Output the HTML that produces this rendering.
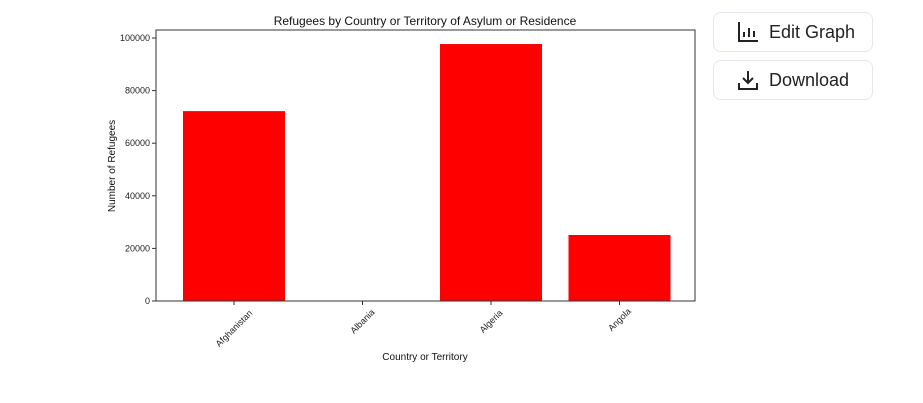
<!DOCTYPE html>
<html><head><meta charset="utf-8"><style>
body{margin:0;width:923px;height:403px;background:#fff;font-family:"Liberation Sans",sans-serif;overflow:hidden;position:relative}
.btn{position:absolute;left:713px;width:160px;height:40px;border:1px solid #e3e6ec;border-radius:8px;background:#fff;box-sizing:border-box;display:flex;align-items:center;font-size:18px;color:#222}
.btn svg{margin-left:23px;margin-right:10px}
</style></head><body>
<svg id="chart" width="700" height="403" style="position:absolute;left:0;top:0" font-family="Liberation Sans, sans-serif"></svg>
<div class="btn" style="top:12px">
<svg width="22" height="22" viewBox="0 0 22 22"><path d="M2 1v19h19" fill="none" stroke="#222" stroke-width="2"/><path d="M7 16v-5M12 16v-9M17 16v-6" stroke="#222" stroke-width="2"/></svg>Edit Graph</div>
<div class="btn" style="top:60px">
<svg width="22" height="22" viewBox="0 0 22 22"><path d="M11 2v12M6 9l5 5 5-5" fill="none" stroke="#222" stroke-width="2"/><path d="M2 14v6h18v-6" fill="none" stroke="#222" stroke-width="2"/></svg>Download</div>
<script>
const categories=["Afghanistan","Albania","Algeria","Angola"];
const values=[72200,0,97700,25100];
const yTicks=[0,20000,40000,60000,80000,100000];
const NS="http://www.w3.org/2000/svg";
const svg=document.getElementById("chart");
const L=156,R=695,T=30,B=301;
const step=128.5, c0=234;
function xs(i){return c0+i*step;}
function ys(v){return B-(v/100000)*(B-38);}
function el(t,a,txt){const e=document.createElementNS(NS,t);for(const k in a)e.setAttribute(k,a[k]);if(txt!=null)e.textContent=txt;svg.appendChild(e);return e;}
categories.forEach((c,i)=>{
 const r=el("rect",{x:xs(i)-51,y:ys(values[i]),width:102,height:B-ys(values[i]),fill:"#ff0000"});
 
 
 el("line",{x1:xs(i),x2:xs(i),y1:B,y2:B+4,stroke:"#333"});
 const half=c.length*2.5*0.707;
 const cy=B+8+half;
 const t=el("text",{x:xs(i),y:cy+3,"font-size":"9",fill:"#222","text-anchor":"middle",transform:`rotate(-45 ${xs(i)} ${cy})`},c);
 
 
});
yTicks.forEach(v=>{
 el("line",{x1:L-4,x2:L,y1:ys(v),y2:ys(v),stroke:"#333"});
 const t=el("text",{x:L-6,y:ys(v)+3,"font-size":"9",fill:"#222","text-anchor":"end"},v);
 
 
});
el("rect",{x:L,y:T,width:R-L,height:B-T,fill:"none",stroke:"#333","stroke-width":"1"});
const ti=el("text",{x:425,y:25,"font-size":"12",fill:"#111","text-anchor":"middle"},"Refugees by Country or Territory of Asylum or Residence");


const xl=el("text",{x:425,y:360,"font-size":"10",fill:"#111","text-anchor":"middle"},"Country or Territory");


const yl=el("text",{x:115,y:166,"font-size":"10",fill:"#111","text-anchor":"middle",transform:"rotate(-90 115 166)"},"Number of Refugees");


</script>
</body></html>
